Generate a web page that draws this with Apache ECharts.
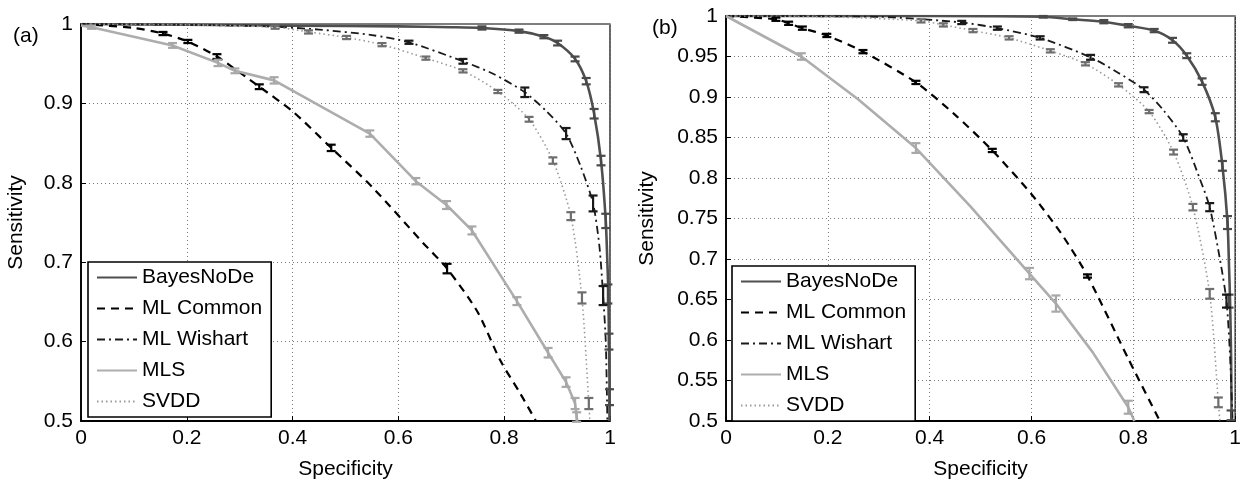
<!DOCTYPE html>
<html>
<head>
<meta charset="utf-8">
<title>ROC curves</title>
<script src="https://cdn.jsdelivr.net/npm/echarts@6/dist/echarts.min.js"></script>
<style>
  html, body { margin: 0; padding: 0; background: #fff; }
  #chart { width: 1244px; height: 485px; }
</style>
</head>
<body>
<div id="chart"></div>
<script>
// names shown in the legends
const methods = ['BayesNoDe', 'ML Common', 'ML Wishart', 'MLS', 'SVDD'];

// panel (a): [specificity, sensitivity]
const bayesA = [[0,1],[0.2,0.999],[0.4,0.998],[0.6,0.997],[0.7,0.996],[0.758,0.995],[0.828,0.991],[0.875,0.984],[0.901,0.976],[0.934,0.956],[0.955,0.928],[0.970,0.887],[0.983,0.828],[0.992,0.752],[0.995,0.70],[0.997,0.66],[0.998,0.6],[0.999,0.55],[0.999,0.5]];
const commonA = [[0,1],[0.1,0.995],[0.155,0.988],[0.202,0.978],[0.257,0.959],[0.337,0.921],[0.4,0.89],[0.473,0.844],[0.55,0.795],[0.647,0.724],[0.692,0.692],[0.75,0.637],[0.792,0.577],[0.83,0.535],[0.86,0.5]];
const wishartA = [[0,1],[0.2,0.999],[0.35,0.997],[0.45,0.993],[0.55,0.986],[0.62,0.977],[0.722,0.953],[0.78,0.937],[0.839,0.914],[0.88,0.89],[0.917,0.862],[0.945,0.82],[0.968,0.774],[0.98,0.72],[0.987,0.658],[0.992,0.6],[0.995,0.5]];
const mlsA = [[0,0.998],[0.02,0.996],[0.173,0.973],[0.259,0.951],[0.291,0.941],[0.365,0.929],[0.546,0.862],[0.633,0.802],[0.691,0.772],[0.739,0.74],[0.824,0.651],[0.883,0.586],[0.917,0.549],[0.934,0.522],[0.937,0.505],[0.938,0.5]];
const svddA = [[0,1],[0.2,0.999],[0.367,0.996],[0.43,0.99],[0.502,0.983],[0.569,0.974],[0.652,0.957],[0.722,0.941],[0.788,0.915],[0.847,0.88],[0.892,0.828],[0.926,0.758],[0.947,0.655],[0.96,0.522],[0.962,0.5]];

// panel (a) error bars: [specificity, sensitivity, half width]
const bayesAErr = [[0.758,0.995,0.002],[0.828,0.991,0.002],[0.875,0.984,0.002],[0.901,0.976,0.003],[0.934,0.956,0.003],[0.955,0.928,0.004],[0.970,0.887,0.006],[0.983,0.828,0.006],[0.992,0.752,0.009],[0.996,0.66,0.012],[0.998,0.6,0.01],[0.999,0.53,0.01]];
const commonAErr = [[0.155,0.988,0.002],[0.202,0.978,0.002],[0.257,0.959,0.003],[0.337,0.921,0.003],[0.473,0.844,0.004],[0.692,0.692,0.006]];
const wishartAErr = [[0.62,0.977,0.002],[0.722,0.953,0.003],[0.839,0.914,0.006],[0.917,0.862,0.007],[0.968,0.774,0.01],[0.987,0.658,0.012]];
const mlsAErr = [[0.02,0.996,0.002],[0.173,0.973,0.003],[0.259,0.951,0.004],[0.291,0.941,0.003],[0.365,0.929,0.004],[0.546,0.862,0.004],[0.633,0.802,0.004],[0.691,0.772,0.005],[0.739,0.74,0.005],[0.824,0.651,0.005],[0.883,0.586,0.006],[0.917,0.549,0.006],[0.934,0.522,0.007],[0.937,0.505,0.006]];
const svddAErr = [[0.367,0.996,0.002],[0.43,0.99,0.002],[0.502,0.983,0.002],[0.569,0.974,0.002],[0.652,0.957,0.002],[0.722,0.941,0.002],[0.788,0.915,0.002],[0.847,0.88,0.003],[0.892,0.828,0.004],[0.926,0.758,0.005],[0.947,0.655,0.007],[0.96,0.522,0.007]];

// panel (b)
const bayesB = [[0,1],[0.4,1],[0.623,0.999],[0.681,0.996],[0.742,0.993],[0.79,0.988],[0.841,0.982],[0.877,0.97],[0.905,0.951],[0.935,0.919],[0.961,0.875],[0.975,0.815],[0.985,0.745],[0.988,0.69],[0.99,0.648],[0.992,0.58],[0.993,0.5]];
const commonB = [[0,1],[0.098,0.996],[0.123,0.991],[0.15,0.985],[0.198,0.976],[0.269,0.956],[0.373,0.918],[0.45,0.878],[0.523,0.834],[0.6,0.78],[0.66,0.73],[0.71,0.679],[0.79,0.577],[0.852,0.5]];
const wishartB = [[0,1],[0.3,0.999],[0.463,0.992],[0.533,0.985],[0.617,0.973],[0.716,0.949],[0.77,0.93],[0.821,0.909],[0.86,0.883],[0.898,0.85],[0.93,0.8],[0.95,0.764],[0.97,0.7],[0.983,0.648],[0.99,0.58],[0.995,0.5]];
const mlsB = [[0,1],[0.148,0.95],[0.26,0.897],[0.373,0.837],[0.48,0.765],[0.596,0.682],[0.648,0.645],[0.72,0.585],[0.79,0.517],[0.802,0.5]];
const svddB = [[0,1],[0.2,0.999],[0.383,0.994],[0.427,0.989],[0.485,0.982],[0.556,0.973],[0.637,0.957],[0.706,0.941],[0.771,0.915],[0.831,0.882],[0.879,0.832],[0.917,0.764],[0.95,0.657],[0.967,0.523],[0.97,0.5]];

const bayesBErr = [[0.623,0.999,0.001],[0.681,0.996,0.001],[0.742,0.993,0.002],[0.79,0.988,0.002],[0.841,0.982,0.002],[0.877,0.97,0.003],[0.905,0.951,0.003],[0.935,0.919,0.004],[0.961,0.875,0.005],[0.975,0.815,0.006],[0.985,0.745,0.008],[0.988,0.648,0.008],[0.992,0.507,0.006]];
const commonBErr = [[0.098,0.996,0.002],[0.123,0.991,0.002],[0.15,0.985,0.002],[0.198,0.976,0.002],[0.269,0.956,0.002],[0.373,0.918,0.002],[0.523,0.834,0.002],[0.71,0.679,0.002]];
const wishartBErr = [[0.463,0.992,0.002],[0.533,0.985,0.002],[0.617,0.973,0.002],[0.716,0.949,0.003],[0.821,0.909,0.003],[0.898,0.85,0.004],[0.95,0.764,0.005],[0.983,0.648,0.008]];
const mlsBErr = [[0.148,0.95,0.004],[0.373,0.837,0.006],[0.596,0.682,0.007],[0.648,0.645,0.01],[0.79,0.517,0.008]];
const svddBErr = [[0.383,0.994,0.002],[0.427,0.989,0.002],[0.485,0.982,0.002],[0.556,0.973,0.002],[0.637,0.957,0.002],[0.706,0.941,0.002],[0.771,0.915,0.002],[0.831,0.882,0.002],[0.879,0.832,0.003],[0.917,0.764,0.004],[0.95,0.657,0.006],[0.967,0.523,0.006]];

const FONT = '"Liberation Sans", Arial, sans-serif';

// line look per method
const looks = {
  'BayesNoDe':  { color: '#4f4f4f', width: 2.6, type: 'solid', bar: '#4a4a4a', smooth: 0.25 },
  'ML Common':  { color: '#000000', width: 2.2, type: [8, 6], bar: '#000000', smooth: 0.25 },
  'ML Wishart': { color: '#1a1a1a', width: 1.8, type: [8, 4, 2, 4], bar: '#1a1a1a', smooth: 0.25 },
  'MLS':        { color: '#adadad', width: 2.6, type: 'solid', bar: '#a8a8a8', smooth: false },
  'SVDD':       { color: '#9a9a9a', width: 1.6, type: [1.5, 3], bar: '#6e6e6e', smooth: 0.25 }
};

function lineSeries(name, data, idx) {
  const l = looks[name];
  return {
    name: name, type: 'line', data: data,
    xAxisIndex: idx, yAxisIndex: idx,
    symbol: 'none', smooth: l.smooth,
    lineStyle: { color: l.color, width: l.width, type: l.type },
    itemStyle: { color: l.color },
    z: 3
  };
}

function errorSeries(name, data, idx) {
  const l = looks[name];
  return {
    name: name + ' err', type: 'custom', data: data,
    xAxisIndex: idx, yAxisIndex: idx,
    encode: { x: 0, y: 1 },
    itemStyle: { color: l.bar },
    z: 4,
    renderItem: function (params, api) {
      const x = api.value(0), y = api.value(1), e = api.value(2);
      const hi = api.coord([x, y + e]);
      const lo = api.coord([x, y - e]);
      const w = 4.5;
      const style = { stroke: l.bar, lineWidth: 2.2 };
      return {
        type: 'group',
        children: [
          { type: 'line', shape: { x1: hi[0], y1: hi[1], x2: lo[0], y2: lo[1] }, style: style },
          { type: 'line', shape: { x1: hi[0] - w, y1: hi[1], x2: hi[0] + w, y2: hi[1] }, style: style },
          { type: 'line', shape: { x1: lo[0] - w, y1: lo[1], x2: lo[0] + w, y2: lo[1] }, style: style }
        ]
      };
    }
  };
}

function xAxisFor(idx) {
  return {
    type: 'value', gridIndex: idx, min: 0, max: 1, interval: 0.2,
    name: 'Specificity', nameLocation: 'middle', nameGap: 38,
    nameTextStyle: { fontFamily: FONT, fontSize: 21, color: '#000' },
    axisLine: { lineStyle: { color: '#000', width: 1.8 } },
    axisTick: { inside: true, length: 5, lineStyle: { color: '#000' } },
    axisLabel: { fontFamily: FONT, fontSize: 21, color: '#000', margin: 7 },
    splitLine: { show: true, lineStyle: { color: '#7a7a7a', width: 1, type: [1, 3] } }
  };
}

function yAxisFor(idx, step, gap) {
  return {
    type: 'value', gridIndex: idx, min: 0.5, max: 1, interval: step,
    name: 'Sensitivity', nameLocation: 'middle', nameGap: gap,
    nameTextStyle: { fontFamily: FONT, fontSize: 21, color: '#000' },
    axisLine: { lineStyle: { color: '#000', width: 1.8 } },
    axisTick: { inside: true, length: 5, lineStyle: { color: '#000' } },
    axisLabel: { fontFamily: FONT, fontSize: 21, color: '#000', margin: 8 },
    splitLine: { show: true, lineStyle: { color: '#7a7a7a', width: 1, type: [1, 3] } }
  };
}

function legendFor(left, top) {
  return {
    data: methods, orient: 'vertical', left: left, top: top,
    padding: [5, 9, 5, 8], itemWidth: 40, itemHeight: 14, itemGap: 10,
    borderColor: '#000', borderWidth: 1.6, backgroundColor: '#fff',
    selectedMode: false,
    // hide the marker dot, keep only the line sample
    itemStyle: { opacity: 0 },
    textStyle: { fontFamily: FONT, fontSize: 21, color: '#000', lineHeight: 21 }
  };
}

const chart = echarts.init(document.getElementById('chart'), null, { renderer: 'canvas' });

const series = [];
[[bayesA, bayesAErr], [commonA, commonAErr], [wishartA, wishartAErr], [mlsA, mlsAErr], [svddA, svddAErr]]
  .forEach((pair, i) => { series.push(lineSeries(methods[i], pair[0], 0)); series.push(errorSeries(methods[i], pair[1], 0)); });
[[bayesB, bayesBErr], [commonB, commonBErr], [wishartB, wishartBErr], [mlsB, mlsBErr], [svddB, svddBErr]]
  .forEach((pair, i) => { series.push(lineSeries(methods[i], pair[0], 1)); series.push(errorSeries(methods[i], pair[1], 1)); });

chart.setOption({
  backgroundColor: '#fff',
  animation: false,
  grid: [
    { left: 81, top: 24, width: 529, height: 401, show: true, borderColor: '#000', borderWidth: 1.2, backgroundColor: '#fff' },
    { left: 726, top: 16, width: 520, height: 410, show: true, borderColor: '#000', borderWidth: 1.2, backgroundColor: '#fff' }
  ],
  xAxis: [xAxisFor(0), xAxisFor(1)],
  yAxis: [yAxisFor(0, 0.1, 54), yAxisFor(1, 0.05, 68)],
  legend: [legendFor(88, 262), legendFor(732, 266)],
  graphic: [
    { type: 'text', left: 13, top: 26, style: { text: '(a)', font: '21px ' + FONT, fill: '#000' } },
    { type: 'text', left: 652, top: 18, style: { text: '(b)', font: '21px ' + FONT, fill: '#000' } }
  ],
  series: series
});
</script>
</body>
</html>
